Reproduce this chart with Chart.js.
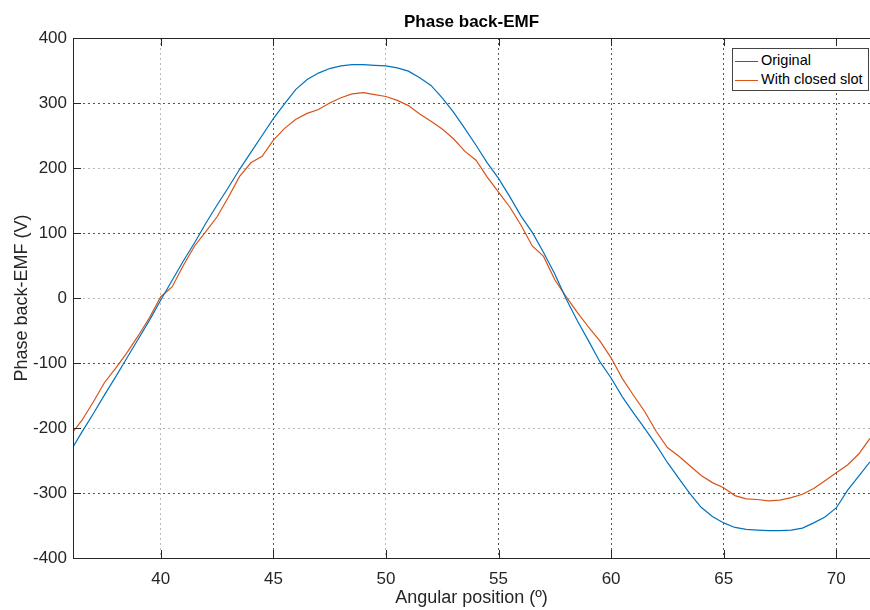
<!DOCTYPE html>
<html>
<head>
<meta charset="utf-8">
<script src="https://cdn.jsdelivr.net/npm/chart.js@4"></script>
<style>
  body { margin: 0; background: #fff; }
  #wrap { position: relative; width: 870px; height: 610px; }
  #legendBox {
    position: absolute; left: 732px; top: 48px; width: 135px; height: 41px;
    border: 1px solid #444; background: #fff;
    font-family: "Liberation Sans", Arial, sans-serif; font-size: 14.5px; color: #000;
  }
  .row { position: absolute; left: 2px; height: 20px; line-height: 20px; white-space: nowrap; }
  .row span.sw { display: inline-block; width: 23px; height: 0; border-top: 1px solid; vertical-align: middle; margin-right: 3px; }
</style>
</head>
<body>
<div id="wrap">
  <canvas id="emfChart" width="870" height="610"></canvas>
  <div id="legendBox">
    <div class="row" style="top:1px"><span class="sw" style="border-color:#0072BD"></span>Original</div>
    <div class="row" style="top:20px"><span class="sw" style="border-color:#D95319"></span>With closed slot</div>
  </div>
</div>
<script>
// angular position (deg)
const angles = [36.1, 36.5, 37, 37.5, 38, 38.5, 39, 39.5, 40, 40.5, 41, 41.5, 42, 42.5, 43, 43.5,
  44, 44.5, 45, 45.5, 46, 46.5, 47, 47.5, 48, 48.5, 49, 49.5, 50, 50.5, 51, 51.5,
  52, 52.5, 53, 53.5, 54, 54.5, 55, 55.5, 56, 56.5, 57, 57.5, 58, 58.5, 59, 59.5,
  60, 60.5, 61, 61.5, 62, 62.5, 63, 63.5, 64, 64.5, 65, 65.5, 66, 66.5, 67, 67.5,
  68, 68.5, 69, 69.5, 70, 70.5, 71, 71.5];

// phase back-EMF (V)
const original = [-229, -206, -178, -149, -121, -92, -63, -34, -3, 27, 57, 85, 115, 143, 170, 198,
  224, 250, 276, 299, 321, 336, 346, 353, 357, 359, 359, 358, 357, 354, 349, 339,
  327, 308, 286, 261, 235, 208, 184, 156, 126, 101, 70, 37, -1, -35, -66, -98,
  -123, -152, -177, -201, -226, -253, -277, -301, -322, -336, -346, -353, -356, -357, -358, -358,
  -357, -354, -346, -337, -323, -296, -274, -252];

const closedSlot = [-206, -188, -160, -130, -108, -84, -58, -30, 2, 17, 50, 80, 102, 125, 155, 187,
  208, 218, 243, 261, 275, 284, 290, 300, 308, 314, 316, 313, 310, 304, 296, 283,
  272, 260, 245, 226, 212, 186, 163, 140, 112, 80, 64, 28, 2, -22, -45, -66,
  -92, -124, -150, -175, -205, -230, -243, -258, -273, -284, -292, -304, -309, -310, -312, -311,
  -307, -302, -293, -281, -269, -257, -240, -216];

const xTicks = [40, 45, 50, 55, 60, 65, 70];
const yTicks = [400, 300, 200, 100, 0, -100, -200, -300, -400];
const lightX = [40, 50];
const lightY = [200, 0, -200];

const font = "'Liberation Sans', Arial, sans-serif";

// frame + inward tick marks like matlab axes
const framePlugin = {
  id: "frame",
  afterDatasetsDraw(chart) {
    const { ctx, chartArea: a, scales } = chart;
    ctx.save();
    ctx.strokeStyle = "#262626";
    ctx.lineWidth = 1;
    ctx.strokeRect(a.left + 0.5, a.top + 0.5, a.right - a.left, a.bottom - a.top);
    ctx.beginPath();
    xTicks.forEach(v => {
      const px = Math.round(scales.x.getPixelForValue(v)) + 0.5;
      ctx.moveTo(px, a.bottom); ctx.lineTo(px, a.bottom - 8);
      ctx.moveTo(px, a.top); ctx.lineTo(px, a.top + 8);
    });
    yTicks.forEach(v => {
      const py = Math.round(scales.y.getPixelForValue(v)) + 0.5;
      ctx.moveTo(a.left, py); ctx.lineTo(a.left + 8, py);
    });
    ctx.stroke();
    ctx.restore();
  }
};

new Chart(document.getElementById("emfChart"), {
  type: "line",
  data: {
    datasets: [
      {
        label: "Original",
        data: angles.map((a, i) => ({ x: a, y: original[i] })),
        borderColor: "#0072BD",
        borderWidth: 1.2,
        pointRadius: 0
      },
      {
        label: "With closed slot",
        data: angles.map((a, i) => ({ x: a, y: closedSlot[i] })),
        borderColor: "#D95319",
        borderWidth: 1.2,
        pointRadius: 0
      }
    ]
  },
  options: {
    responsive: false,
    animation: false,
    devicePixelRatio: 1,
    layout: { padding: 0 },
    plugins: {
      legend: { display: false },
      tooltip: { enabled: false },
      title: {
        display: true,
        text: "Phase back-EMF",
        fullSize: false,
        color: "#000",
        font: { family: font, size: 17, weight: "bold", lineHeight: 1.2 },
        padding: { top: 12, bottom: 5.6 }
      }
    },
    scales: {
      x: {
        type: "linear",
        min: 36.1,
        max: 71.5,
        afterBuildTicks: s => { s.ticks = xTicks.map(v => ({ value: v })); },
        afterFit: s => { s.height = 52; },
        border: { display: false, dash: [2, 3] },
        grid: {
          drawTicks: false,
          color: c => lightX.includes(c.tick && c.tick.value) ? "#b8b8b8" : "#555",
          lineWidth: 1
        },
        ticks: { color: "#262626", padding: 11, maxRotation: 0, font: { family: font, size: 17 } },
        title: {
          display: true,
          text: "Angular position (º)",
          color: "#262626",
          font: { family: font, size: 18 },
          padding: { top: 0, bottom: 1 }
        }
      },
      y: {
        min: -400,
        max: 400,
        afterBuildTicks: s => { s.ticks = yTicks.map(v => ({ value: v })); },
        afterFit: s => { s.width = 73; },
        border: { display: false, dash: [2, 3] },
        grid: {
          drawTicks: false,
          color: c => lightY.includes(c.tick && c.tick.value) ? "#b8b8b8" : "#555",
          lineWidth: 1
        },
        ticks: { color: "#262626", padding: 6, font: { family: font, size: 17 } },
        title: {
          display: true,
          text: "Phase back-EMF (V)",
          color: "#262626",
          font: { family: font, size: 18 },
          padding: { top: 11, bottom: 0 }
        }
      }
    }
  },
  plugins: [framePlugin]
});
</script>
</body>
</html>
